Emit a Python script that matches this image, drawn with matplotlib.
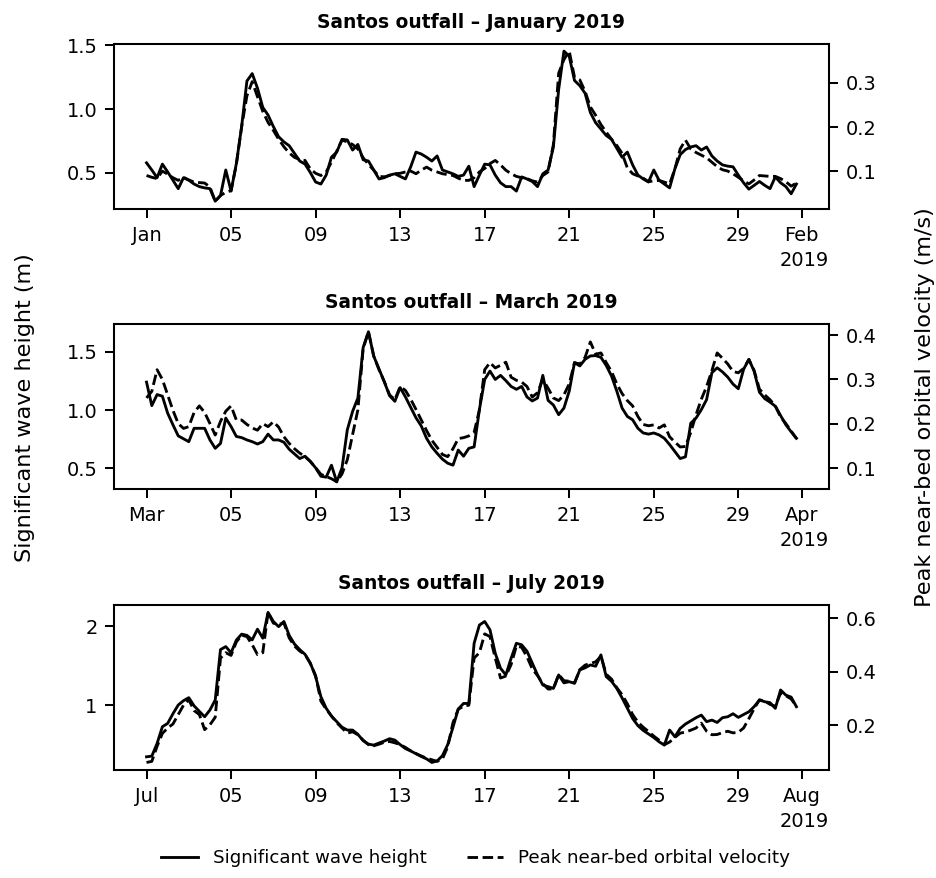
import matplotlib.pyplot as plt
import matplotlib.dates as mdates
from matplotlib.lines import Line2D
import pandas as pd

# 6-hourly values, day 1 00:00 to day 31 18:00
jan_hs = [0.576, 0.52, 0.46, 0.566, 0.505, 0.44, 0.374, 0.46, 0.44, 0.41, 0.39, 0.38,
          0.374, 0.276, 0.32, 0.52, 0.355, 0.57, 0.86, 1.216, 1.274, 1.16, 1.01, 0.95,
          0.86, 0.78, 0.74, 0.71, 0.65, 0.59, 0.566, 0.50, 0.426, 0.41, 0.48, 0.62,
          0.66, 0.76, 0.755, 0.676, 0.72, 0.60, 0.59, 0.52, 0.45, 0.46, 0.48, 0.49,
          0.47, 0.45, 0.545, 0.66, 0.645, 0.62, 0.59, 0.63, 0.52, 0.505, 0.49, 0.47,
          0.48, 0.55, 0.39, 0.48, 0.566, 0.56, 0.48, 0.42, 0.39, 0.39, 0.355, 0.466,
          0.45, 0.43, 0.39, 0.49, 0.52, 0.70, 1.15, 1.45, 1.41, 1.22, 1.18, 1.12,
          0.97, 0.89, 0.84, 0.79, 0.76, 0.69, 0.62, 0.66, 0.56, 0.48, 0.45, 0.426,
          0.52, 0.44, 0.41, 0.38, 0.53, 0.64, 0.68, 0.70, 0.71, 0.676, 0.70, 0.63,
          0.59, 0.56, 0.55, 0.545, 0.48, 0.42, 0.37, 0.40, 0.43, 0.40, 0.374, 0.466,
          0.42, 0.39, 0.334, 0.41]
jan_ub = [0.090, 0.086, 0.083, 0.100, 0.093, 0.085, 0.079, 0.086, 0.080, 0.075, 0.074, 0.073,
          0.064, 0.032, 0.045, 0.052, 0.056, 0.115, 0.200, 0.270, 0.302, 0.268, 0.235, 0.210,
          0.192, 0.172, 0.155, 0.141, 0.131, 0.126, 0.124, 0.105, 0.095, 0.090, 0.098, 0.120,
          0.145, 0.170, 0.166, 0.160, 0.150, 0.130, 0.115, 0.102, 0.088, 0.087, 0.090, 0.094,
          0.095, 0.098, 0.100, 0.094, 0.102, 0.109, 0.102, 0.098, 0.094, 0.092, 0.090, 0.084,
          0.079, 0.079, 0.085, 0.098, 0.106, 0.117, 0.124, 0.114, 0.102, 0.094, 0.088, 0.085,
          0.083, 0.078, 0.075, 0.090, 0.098, 0.160, 0.321, 0.352, 0.371, 0.312, 0.306, 0.280,
          0.245, 0.226, 0.205, 0.188, 0.172, 0.158, 0.140, 0.107, 0.094, 0.089, 0.084, 0.076,
          0.078, 0.079, 0.075, 0.071, 0.105, 0.150, 0.170, 0.150, 0.142, 0.136, 0.130, 0.120,
          0.110, 0.103, 0.100, 0.094, 0.086, 0.078, 0.071, 0.080, 0.090, 0.089, 0.088, 0.088,
          0.083, 0.076, 0.066, 0.073]

mar_hs = [1.237, 1.035, 1.13, 1.116, 0.97, 0.87, 0.775, 0.75, 0.725, 0.84, 0.84, 0.84,
          0.74, 0.668, 0.71, 0.928, 0.855, 0.77, 0.76, 0.74, 0.725, 0.705, 0.725, 0.79,
          0.74, 0.74, 0.72, 0.66, 0.62, 0.58, 0.60, 0.556, 0.50, 0.428, 0.42, 0.523,
          0.38, 0.50, 0.827, 0.985, 1.10, 1.535, 1.67, 1.46, 1.35, 1.24, 1.12, 1.072,
          1.19, 1.11, 1.02, 0.93, 0.86, 0.754, 0.68, 0.625, 0.575, 0.54, 0.523, 0.653,
          0.60, 0.668, 0.68, 1.0, 1.26, 1.332, 1.26, 1.295, 1.25, 1.20, 1.175, 1.20,
          1.11, 1.075, 1.10, 1.295, 1.08, 1.04, 0.957, 1.014, 1.16, 1.405, 1.376, 1.433,
          1.462, 1.465, 1.45, 1.38, 1.29, 1.16, 1.014, 0.942, 0.913, 0.84, 0.80, 0.79,
          0.80, 0.783, 0.754, 0.70, 0.64, 0.58, 0.595, 0.884, 0.928, 1.0, 1.087, 1.318,
          1.36, 1.325, 1.28, 1.22, 1.18, 1.347, 1.433, 1.33, 1.15, 1.095, 1.065, 1.03,
          0.95, 0.87, 0.81, 0.754]
mar_ub = [0.258, 0.273, 0.322, 0.300, 0.265, 0.230, 0.200, 0.189, 0.193, 0.225, 0.240, 0.225,
          0.200, 0.174, 0.205, 0.228, 0.240, 0.208, 0.208, 0.198, 0.190, 0.185, 0.200, 0.193,
          0.204, 0.192, 0.170, 0.155, 0.143, 0.133, 0.125, 0.114, 0.100, 0.085, 0.080, 0.075,
          0.068, 0.086, 0.118, 0.175, 0.231, 0.370, 0.408, 0.353, 0.322, 0.295, 0.265, 0.254,
          0.284, 0.275, 0.255, 0.232, 0.208, 0.184, 0.162, 0.146, 0.130, 0.125, 0.143, 0.166,
          0.168, 0.172, 0.180, 0.231, 0.322, 0.338, 0.326, 0.332, 0.339, 0.305, 0.298, 0.294,
          0.284, 0.260, 0.270, 0.300, 0.280, 0.258, 0.252, 0.265, 0.290, 0.338, 0.335, 0.350,
          0.385, 0.357, 0.360, 0.338, 0.318, 0.290, 0.268, 0.252, 0.240, 0.216, 0.198, 0.195,
          0.197, 0.190, 0.197, 0.170, 0.158, 0.147, 0.148, 0.180, 0.220, 0.255, 0.284, 0.320,
          0.360, 0.348, 0.335, 0.318, 0.315, 0.325, 0.345, 0.320, 0.278, 0.265, 0.254, 0.240,
          0.215, 0.200, 0.183, 0.166]

jul_hs = [0.346, 0.355, 0.515, 0.726, 0.768, 0.89, 1.00, 1.055, 1.093, 0.99, 0.92, 0.852,
          0.937, 1.063, 1.70, 1.738, 1.66, 1.82, 1.895, 1.88, 1.823, 1.958, 1.844, 2.17,
          2.055, 1.99, 2.055, 1.88, 1.77, 1.70, 1.64, 1.53, 1.36, 1.105, 0.96, 0.86,
          0.79, 0.72, 0.684, 0.684, 0.63, 0.55, 0.506, 0.494, 0.52, 0.545, 0.575, 0.557,
          0.50, 0.45, 0.42, 0.385, 0.35, 0.32, 0.275, 0.295, 0.36, 0.50, 0.72, 0.95,
          1.02, 1.02, 1.78, 2.01, 2.055, 1.95, 1.654, 1.464, 1.38, 1.59, 1.78, 1.76,
          1.68, 1.53, 1.38, 1.253, 1.232, 1.21, 1.38, 1.28, 1.295, 1.274, 1.443, 1.47,
          1.506, 1.49, 1.633, 1.359, 1.30, 1.21, 1.09, 0.96, 0.83, 0.74, 0.68, 0.635,
          0.59, 0.536, 0.494, 0.684, 0.60, 0.705, 0.76, 0.80, 0.84, 0.873, 0.79, 0.81,
          0.78, 0.84, 0.852, 0.89, 0.844, 0.88, 0.915, 0.98, 1.063, 1.042, 1.03, 0.958,
          1.19, 1.125, 1.10, 0.979]
jul_ub = [0.062, 0.066, 0.122, 0.170, 0.190, 0.205, 0.240, 0.275, 0.295, 0.255, 0.240, 0.184,
          0.202, 0.230, 0.450, 0.470, 0.460, 0.510, 0.535, 0.530, 0.500, 0.463, 0.470, 0.620,
          0.580, 0.575, 0.581, 0.525, 0.495, 0.476, 0.463, 0.430, 0.385, 0.290, 0.260, 0.235,
          0.210, 0.190, 0.171, 0.176, 0.165, 0.145, 0.128, 0.124, 0.130, 0.137, 0.140, 0.135,
          0.128, 0.118, 0.105, 0.095, 0.086, 0.078, 0.072, 0.066, 0.075, 0.120, 0.210, 0.260,
          0.271, 0.275, 0.450, 0.470, 0.540, 0.530, 0.450, 0.376, 0.383, 0.426, 0.495, 0.490,
          0.455, 0.410, 0.385, 0.355, 0.335, 0.335, 0.389, 0.366, 0.364, 0.358, 0.407, 0.424,
          0.430, 0.436, 0.457, 0.390, 0.372, 0.340, 0.314, 0.280, 0.240, 0.212, 0.193, 0.177,
          0.160, 0.145, 0.128, 0.138, 0.155, 0.171, 0.175, 0.182, 0.190, 0.208, 0.178, 0.165,
          0.166, 0.173, 0.178, 0.172, 0.174, 0.190, 0.225, 0.262, 0.295, 0.290, 0.278, 0.271,
          0.320, 0.310, 0.298, 0.271]

titles = ['Santos outfall – January 2019', 'Santos outfall – March 2019',
          'Santos outfall – July 2019']
starts = ['2019-01-01', '2019-03-01', '2019-07-01']
hs_series = [jan_hs, mar_hs, jul_hs]
ub_series = [jan_ub, mar_ub, jul_ub]

plt.rcParams['font.size'] = 9.5
plt.rcParams['axes.linewidth'] = 1.0

fig, axes = plt.subplots(3, 1, figsize=(6.4, 6.0), dpi=146.4)
fig.subplots_adjust(left=0.1217, right=0.8847, top=0.9499, bottom=0.123, hspace=0.70)

for ax, title, start, hs, ub in zip(axes, titles, starts, hs_series, ub_series):
    t = pd.date_range(start, periods=len(hs), freq='6h')
    ax.plot(t, hs, color='black', lw=1.4, ls='-')
    ax2 = ax.twinx()
    ax2.plot(t, ub, color='black', lw=1.4, ls='--')

    ax.set_title(title, fontweight='bold', fontsize=9.2, pad=8)
    loc = mdates.DayLocator(bymonthday=range(1, 32, 4))
    fmt = mdates.ConciseDateFormatter(loc)
    fmt.offset_formats = ['', '%Y', '%Y', '%Y-%b-%d', '%Y-%b-%d', '%Y-%b-%d %H:%M']
    ax.xaxis.set_major_locator(loc)
    ax.xaxis.set_major_formatter(fmt)
    for a in (ax, ax2):
        a.tick_params(length=4.6, width=1.0)

fig.text(25 / 937, 1 - 407 / 878, 'Significant wave height (m)', rotation=90,
         ha='center', va='center', fontsize=11)
fig.text(925 / 937, 1 - 407 / 878, 'Peak near-bed orbital velocity (m/s)', rotation=90,
         ha='center', va='center', fontsize=11)

handles = [Line2D([], [], color='black', lw=1.4, ls='-'),
           Line2D([], [], color='black', lw=1.4, ls='--')]
fig.legend(handles, ['Significant wave height', 'Peak near-bed orbital velocity'],
           loc='center', bbox_to_anchor=(0.5075, 1 - 858 / 878), ncol=2, frameon=False,
           fontsize=9, columnspacing=2.2)

fig.savefig('out.png', dpi=146.4)
